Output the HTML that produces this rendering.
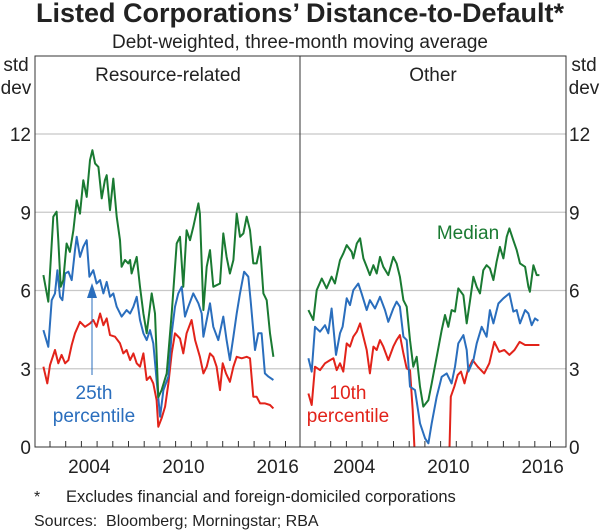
<!DOCTYPE html>
<html><head><meta charset="utf-8">
<style>
body{margin:0;background:#fff;}
svg{display:block;font-family:"Liberation Sans",Arial,sans-serif;}
</style></head>
<body>
<svg id="chart" width="600" height="530" viewBox="0 0 600 530" xmlns="http://www.w3.org/2000/svg">
<text x="300" y="22" text-anchor="middle" font-size="27" font-weight="bold" fill="#222">Listed Corporations’ Distance-to-Default*</text>
<text x="300" y="48" text-anchor="middle" font-size="19" fill="#222">Debt-weighted, three-month moving average</text>
<g id="grid"></g>
<g id="series"></g>
<g id="axes"></g>
<text x="16" y="71" text-anchor="middle" font-size="19" fill="#222">std</text>
<text x="16" y="94" text-anchor="middle" font-size="19" fill="#222">dev</text>
<text x="584" y="71" text-anchor="middle" font-size="19" fill="#222">std</text>
<text x="584" y="94" text-anchor="middle" font-size="19" fill="#222">dev</text>
<text x="168" y="81" text-anchor="middle" font-size="19" fill="#222">Resource-related</text>
<text x="433" y="81" text-anchor="middle" font-size="19" fill="#222">Other</text>
<text x="468" y="239" text-anchor="middle" font-size="19" fill="#1a7a32">Median</text>
<text x="94" y="399" text-anchor="middle" font-size="19" fill="#2a6ebd">25th</text>
<text x="94" y="422" text-anchor="middle" font-size="19" fill="#2a6ebd">percentile</text>
<line x1="92" y1="375" x2="92" y2="295" stroke="#2a6ebd" stroke-width="1"/>
<polygon points="92,283 87,298 97,298" fill="#2a6ebd"/>
<text x="348" y="399" text-anchor="middle" font-size="19" fill="#e2231a">10th</text>
<text x="348" y="422" text-anchor="middle" font-size="19" fill="#e2231a">percentile</text>
<text x="34" y="502" font-size="16" fill="#222">*</text>
<text x="66" y="502" font-size="16.5" fill="#222">Excludes financial and foreign-domiciled corporations</text>
<text x="34" y="526" font-size="16" fill="#222" xml:space="preserve">Sources:  Bloomberg; Morningstar; RBA</text>
</svg>
<script>
const yTicks=[0,3,6,9,12];
const xLabels=[2004,2010,2016];
const resMedYears=[2001.58,2001.89,2002.21,2002.42,2002.53,2002.68,2002.85,2003.06,2003.27,2003.49,2003.70,2003.91,2004.12,2004.34,2004.55,2004.70,2004.87,2005.08,2005.29,2005.50,2005.61,2005.82,2006.03,2006.25,2006.46,2006.56,2006.78,2006.99,2007.10,2007.20,2007.52,2007.73,2007.95,2008.16,2008.37,2008.48,2008.69,2008.90,2009.11,2009.43,2009.75,2010.07,2010.28,2010.49,2010.70,2010.92,2011.13,2011.45,2011.55,2011.77,2011.98,2012.19,2012.40,2012.83,2013.04,2013.25,2013.46,2013.68,2013.89,2014.10,2014.32,2014.53,2014.74,2014.95,2015.16,2015.38,2015.59,2015.80,2016.01,2016.23];
const resMed=[6.59,5.57,8.83,9.02,7.93,6.14,6.40,7.80,7.48,8.31,9.46,8.95,10.23,9.59,11.0,11.38,10.87,10.74,9.53,10.23,10.42,9.08,10.29,8.83,7.93,6.91,7.17,7.04,7.17,6.65,7.29,6.14,5.12,4.36,5.38,5.89,5.12,1.9,2.18,2.82,5.12,7.80,8.06,6.14,8.31,7.93,8.44,9.34,8.95,5.25,6.91,7.55,6.14,6.27,8.19,7.29,6.65,7.17,8.95,8.06,8.19,8.83,8.31,7.04,7.04,7.68,5.89,5.63,4.36,3.46];
const resP25Years=[2001.58,2001.89,2002.11,2002.32,2002.47,2002.64,2002.79,2002.96,2003.17,2003.38,2003.59,2003.70,2003.91,2004.12,2004.34,2004.51,2004.76,2004.97,2005.19,2005.40,2005.61,2005.82,2006.03,2006.25,2006.56,2006.88,2007.10,2007.31,2007.52,2007.73,2007.95,2008.16,2008.37,2008.58,2008.79,2009.01,2009.22,2009.54,2009.75,2009.96,2010.17,2010.39,2010.60,2010.81,2011.13,2011.45,2011.66,2011.77,2011.98,2012.19,2012.40,2012.72,2013.04,2013.25,2013.46,2013.68,2013.89,2014.10,2014.36,2014.63,2014.78,2015.06,2015.27,2015.48,2015.69,2015.91,2016.23];
const resP25=[4.48,3.84,5.63,5.89,6.78,5.76,5.63,6.65,6.72,6.40,7.55,8.06,7.29,7.68,7.93,6.53,6.78,6.27,6.40,5.89,6.33,5.76,5.89,5.38,5.0,5.25,5.12,5.38,5.76,4.87,4.36,4.10,4.48,3.97,2.57,1.16,2.18,2.70,4.36,5.38,5.89,6.14,5.0,5.38,5.89,5.51,5.12,4.23,4.87,5.51,4.61,4.10,5.0,4.10,3.33,4.23,5.12,5.89,6.72,6.53,5.63,3.72,4.36,4.36,2.82,2.70,2.57];
const resP10Years=[2001.58,2001.83,2002.00,2002.32,2002.53,2002.74,2002.96,2003.17,2003.38,2003.59,2003.91,2004.23,2004.55,2004.76,2004.97,2005.19,2005.40,2005.61,2005.82,2006.14,2006.46,2006.67,2006.88,2007.10,2007.31,2007.52,2007.73,2007.95,2008.16,2008.37,2008.58,2008.79,2008.90,2009.11,2009.33,2009.54,2009.75,2009.96,2010.28,2010.49,2010.70,2011.02,2011.24,2011.55,2011.77,2011.98,2012.19,2012.40,2012.61,2012.83,2013.00,2013.21,2013.46,2013.68,2013.89,2014.21,2014.53,2014.74,2014.95,2015.16,2015.38,2015.70,2016.01,2016.23];
const resP10=[3.08,2.44,3.14,3.72,3.21,3.53,3.21,3.33,3.91,4.36,4.80,4.61,4.74,4.87,4.61,5.12,4.67,4.93,4.29,4.23,3.97,3.59,3.72,3.33,3.59,3.21,3.08,3.59,2.57,2.70,2.44,1.80,0.78,1.10,1.55,2.44,3.59,4.36,4.16,3.59,4.36,4.87,4.10,3.46,2.82,3.08,3.59,3.46,3.08,2.18,3.21,2.82,2.50,3.08,3.46,3.40,3.46,3.40,1.93,1.93,1.67,1.67,1.61,1.48];
const othMedYears=[2001.58,2001.89,2002.11,2002.43,2002.74,2003.06,2003.27,2003.59,2003.80,2004.02,2004.34,2004.44,2004.66,2004.87,2005.08,2005.29,2005.50,2005.72,2005.93,2006.14,2006.35,2006.67,2006.99,2007.20,2007.41,2007.63,2007.84,2008.05,2008.26,2008.48,2008.69,2008.90,2009.22,2009.43,2009.75,2010.07,2010.28,2010.49,2010.70,2010.92,2011.13,2011.45,2011.66,2011.88,2012.09,2012.30,2012.51,2012.72,2012.93,2013.14,2013.36,2013.57,2013.78,2014.00,2014.21,2014.38,2014.63,2014.85,2015.06,2015.38,2015.59,2015.69,2015.91,2016.12,2016.29];
const othMed=[5.25,4.87,6.01,6.46,6.08,6.53,6.27,7.16,7.42,7.74,7.48,7.23,7.80,8.0,7.23,6.91,6.59,6.97,6.65,7.29,6.91,6.59,7.29,7.04,6.53,5.63,5.38,4.10,3.08,3.46,2.31,1.55,1.80,2.44,3.46,4.48,5.06,4.61,5.25,5.19,6.08,5.82,4.74,5.63,6.53,6.14,5.89,6.78,6.97,6.85,6.40,7.10,7.67,7.23,8.06,8.38,7.93,7.55,7.04,6.91,6.14,5.95,6.97,6.59,6.59];
const othP25Years=[2001.58,2001.79,2002.00,2002.32,2002.64,2002.85,2003.06,2003.34,2003.59,2003.76,2004.02,2004.23,2004.44,2004.76,2004.97,2005.29,2005.50,2005.82,2006.14,2006.46,2006.67,2006.99,2007.20,2007.41,2007.63,2007.84,2008.05,2008.37,2008.69,2009.01,2009.22,2009.43,2009.75,2010.07,2010.39,2010.70,2010.92,2011.13,2011.45,2011.66,2011.77,2012.09,2012.30,2012.62,2012.93,2013.14,2013.36,2013.68,2014.00,2014.38,2014.63,2014.85,2015.06,2015.38,2015.59,2015.80,2016.01,2016.23];
const othP25=[3.40,2.89,4.61,4.42,4.67,4.36,5.31,3.53,4.36,4.61,5.70,5.44,6.01,6.27,5.89,5.25,5.63,5.31,5.76,5.25,4.80,5.31,5.57,5.38,4.23,4.10,2.31,2.18,0.91,0.33,0.14,0.91,1.93,2.69,2.82,2.44,3.08,3.97,4.29,3.72,2.89,3.33,3.97,4.61,4.23,5.25,4.74,5.50,5.70,5.89,5.19,5.25,4.74,5.25,5.12,4.67,4.93,4.84];
const othP10Years=[2001.58,2001.79,2002.00,2002.32,2002.64,2002.96,2003.17,2003.38,2003.59,2003.80,2004.02,2004.23,2004.44,2004.66,2004.87,2005.08,2005.29,2005.50,2005.72,2005.93,2006.14,2006.35,2006.67,2006.99,2007.20,2007.41,2007.63,2007.84,2008.05,2008.22,2008.37,2008.60,2010.40,2010.56,2010.65,2010.87,2011.09,2011.30,2011.52,2011.73,2012.04,2012.36,2012.78,2013.10,2013.42,2013.74,2014.06,2014.38,2014.71,2015.03,2015.38,2015.66,2015.88,2016.12,2016.29];
const othP10=[2.05,1.61,3.08,2.95,3.21,3.33,3.40,2.95,3.21,2.89,3.97,3.85,4.23,4.42,4.74,4.23,3.72,2.82,3.85,3.72,4.10,3.85,3.33,3.85,4.10,4.29,3.59,3.01,2.95,1.42,-0.5,-1,-1,-0.2,1.93,2.31,2.76,2.89,2.44,2.95,3.33,3.08,2.82,3.21,4.03,3.65,3.72,3.53,3.72,4.03,3.91,3.91,3.91,3.91,3.91];

const NS='http://www.w3.org/2000/svg';
const TOP=56,BOT=447;
function yScale(v){return BOT-(v/12)*(BOT-134);}
const panels=[{x0:35,x1:300,base:50},{x0:300,x1:566,base:315}];
function xScale(p,yr){return panels[p].base+(yr-2002)*15.7;}
const grid=document.getElementById('grid'),axes=document.getElementById('axes'),ser=document.getElementById('series');
function mk(tag,attrs,parent){const e=document.createElementNS(NS,tag);for(const k in attrs)e.setAttribute(k,attrs[k]);parent.appendChild(e);return e;}
const defs=mk('defs',{},document.getElementById('chart'));
panels.forEach((p,i)=>{const c=mk('clipPath',{id:'clip'+i},defs);mk('rect',{x:p.x0,y:TOP,width:p.x1-p.x0,height:BOT-TOP},c);});
yTicks.forEach(t=>{
  if(t>0){const g=mk('line',{x1:35,x2:566,y1:yScale(t),y2:yScale(t),stroke:'#c8c8c8','stroke-width':1.3},grid);
  
  }
  const l=mk('text',{x:31,y:yScale(t)+7,'text-anchor':'end','font-size':19,fill:'#222'},axes);l.textContent=t;
  
  
  const r=mk('text',{x:569,y:yScale(t)+7,'text-anchor':'start','font-size':19,fill:'#222'},axes);r.textContent=t;
  
  
});
const fr=mk('rect',{x:35,y:TOP,width:531,height:BOT-TOP,fill:'none',stroke:'#333','stroke-width':1},axes);


const dv=mk('line',{x1:300,x2:300,y1:TOP,y2:BOT,stroke:'#333','stroke-width':1},axes);


panels.forEach((p,i)=>{
  for(let yr=2002;yr<=2017;yr++){const x=xScale(i,yr);if(x>=p.x1-2)continue;
    const t=mk('line',{x1:x,x2:x,y1:BOT,y2:BOT-6,stroke:'#333','stroke-width':1},axes);
    
    }
  xLabels.forEach(yr=>{const l=mk('text',{x:xScale(i,yr+0.5),y:BOT+26,'text-anchor':'middle','font-size':19,fill:'#222'},axes);l.textContent=yr;
    
    });
});
function line(p,years,vals,color,name){
  let d='';years.forEach((yr,i)=>{d+=(i?'L':'M')+xScale(p,yr).toFixed(1)+','+yScale(vals[i]).toFixed(1);});
  const e=mk('path',{d:d,fill:'none',stroke:color,'stroke-width':2,'stroke-linejoin':'round','clip-path':'url(#clip'+p+')'},ser);
  
  
}
const G='#1a7a32',B='#2a6ebd',R='#e2231a';
line(0,resP10Years,resP10,R,'resource-10th-percentile-line');
line(0,resP25Years,resP25,B,'resource-25th-percentile-line');
line(0,resMedYears,resMed,G,'resource-median-line');
line(1,othP10Years,othP10,R,'other-10th-percentile-line');
line(1,othP25Years,othP25,B,'other-25th-percentile-line');
line(1,othMedYears,othMed,G,'other-median-line');
</script>
</body></html>
